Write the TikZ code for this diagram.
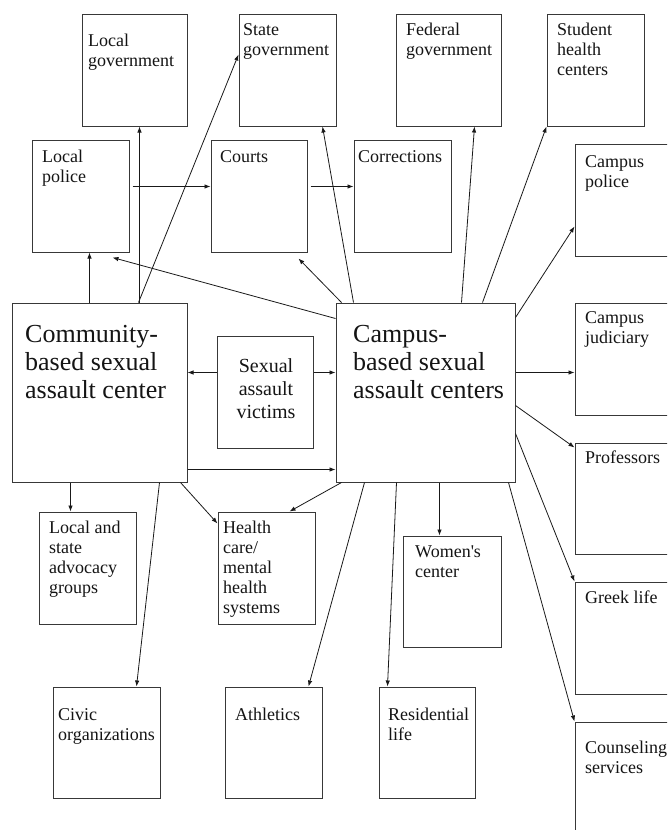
\documentclass[tikz,border=0pt]{standalone}
\usepackage{fontspec}
\setmainfont{Liberation Serif}
\usetikzlibrary{arrows.meta,calc}
\newcommand{\fs}{\rule{0pt}{14pt}}
\newcommand{\fb}{\rule{0pt}{20pt}}
\newcommand{\fm}{\rule{0pt}{15.5pt}}
\begin{document}
\begin{tikzpicture}[x=1pt,y=-1pt,
  box/.style={draw=black!78,line width=1pt,rectangle,inner sep=0pt,fill=none},
  txt/.style={anchor=north west,inner sep=0pt,align=left,text=black!92,font=\fontsize{18}{20}\selectfont},
  bigtxt/.style={anchor=north west,inner sep=0pt,align=left,text=black!92,font=\fontsize{26}{28}\selectfont},
  midtxt/.style={anchor=north,inner sep=0pt,align=center,text=black!92,font=\fontsize{20}{23}\selectfont},
  arr/.style={draw=black!90,line width=0.8pt,-{Latex[length=6pt,width=4.5pt]}}]
\useasboundingbox (0,0) rectangle (667,830);
\clip (0,0) rectangle (667,830);
% boxes
\node[box,minimum width=105pt,minimum height=112pt] (lg) at (134.5,70) {};
\node[box,minimum width=97pt,minimum height=112pt] (sg) at (287.5,70) {};
\node[box,minimum width=105pt,minimum height=112pt] (fg) at (448.5,70) {};
\node[box,minimum width=97pt,minimum height=112pt] (sh) at (595.5,70) {};
\node[box,minimum width=97pt,minimum height=112pt] (lp) at (80.5,196) {};
\node[box,minimum width=96pt,minimum height=112pt] (ct) at (259,196) {};
\node[box,minimum width=97pt,minimum height=112pt] (co) at (402.5,196) {};
\node[box,minimum width=97pt,minimum height=112pt] (cp) at (623.5,200) {};
\node[box,minimum width=175pt,minimum height=179pt] (cb) at (99.5,392.5) {};
\node[box,minimum width=96pt,minimum height=112pt] (sv) at (265,392) {};
\node[box,minimum width=179pt,minimum height=179pt] (cc) at (425.5,392.5) {};
\node[box,minimum width=97pt,minimum height=112pt] (cj) at (623.5,359) {};
\node[box,minimum width=97pt,minimum height=111pt] (pr) at (623.5,498.5) {};
\node[box,minimum width=97pt,minimum height=112pt] (gl) at (623.5,638) {};
\node[box,minimum width=97pt,minimum height=112pt] (cs) at (623.5,778) {};
\node[box,minimum width=97pt,minimum height=112pt] (la) at (87.5,568) {};
\node[box,minimum width=97pt,minimum height=112pt] (hc) at (266.5,568) {};
\node[box,minimum width=98pt,minimum height=111pt] (wc) at (452,591.5) {};
\node[box,minimum width=107pt,minimum height=111pt] (cv) at (106.5,742.5) {};
\node[box,minimum width=97pt,minimum height=111pt] (at) at (273.5,742.5) {};
\node[box,minimum width=96pt,minimum height=111pt] (rl) at (427,742.5) {};
% texts
\node[txt] (tlg) at (88,32) {\fs Local\\government};
\node[txt] (tsg) at (243,21) {\fs State\\government};
\node[txt] (tfg) at (406,21) {\fs Federal\\government};
\node[txt] (tsh) at (557,21) {\fs Student\\health\\centers};
\node[txt] (tlp) at (42,148) {\fs Local\\police};
\node[txt] (tct) at (220,148) {\fs Courts};
\node[txt] (tco) at (358,148) {\fs Corrections};
\node[txt] (tcp) at (585,153) {\fs Campus\\police};
\node[txt] (tcj) at (585,309) {\fs Campus\\judiciary};
\node[txt] (tpr) at (585,449) {\fs Professors};
\node[txt] (tgl) at (585,589) {\fs Greek life};
\node[txt] (tcs) at (585,739) {\fs Counseling\\services};
\node[txt] (tla) at (49,519) {\fs Local and\\state\\advocacy\\groups};
\node[txt] (thc) at (223,519) {\fs Health\\care/\\mental\\health\\systems};
\node[txt] (twc) at (415,543) {\fs Women\textquotesingle s\\center};
\node[txt] (tcv) at (58,706) {\fs Civic\\organizations};
\node[txt] (tat) at (235,706) {\fs Athletics};
\node[txt] (trl) at (388,706) {\fs Residential\\life};
\node[bigtxt] (tcb) at (25,322) {\fb Community-\\based sexual\\assault center};
\node[bigtxt] (tcc) at (353,322) {\fb Campus-\\based sexual\\assault centers};
\node[midtxt] (tsv) at (266,356.5) {\fm Sexual\\assault\\victims};
% arrows
\draw[arr] ($(cb.north west)+(78,0)$) -- ($(lp.south west)+(58,0)$);
\draw[arr] ($(cb.north west)+(128,0)$) -- ($(lg.south west)+(58,0)$);
\draw[arr] ($(cb.north west)+(127,0)$) -- ($(sg.north west)+(0,41)$);
\draw[arr] ($(lp.north east)+(3,47)$) -- ($(ct.north west)+(0,47)$);
\draw[arr] ($(ct.north east)+(3,47)$) -- ($(co.north west)+(0,47)$);
\draw[arr] ($(cc.north west)+(0,16)$) -- ($(lp.south west)+(81,5)$);
\draw[arr] ($(cc.north west)+(6,0)$) -- ($(ct.south east)+(-9,6)$);
\draw[arr] ($(cc.north west)+(18,0)$) -- ($(sg.south west)+(84,0)$);
\draw[arr] ($(cc.north west)+(126,0)$) -- ($(fg.south west)+(79,0)$);
\draw[arr] ($(cc.north west)+(147,0)$) -- (sh.south west);
\draw[arr] ($(cc.north east)+(0,15)$) -- ($(cp.north west)+(0,83)$);
\draw[arr] ($(sv.north west)+(0,37)$) -- ($(cb.north east)+(0,70)$);
\draw[arr] ($(sv.north east)+(0,37)$) -- ($(cc.north west)+(0,70)$);
\draw[arr] ($(cb.north east)+(0,167)$) -- ($(cc.north west)+(0,167)$);
\draw[arr] ($(cc.north east)+(0,70)$) -- ($(cj.north west)+(0,70)$);
\draw[arr] ($(cc.north east)+(0,103)$) -- ($(pr.north west)+(0,5)$);
\draw[arr] ($(cc.north east)+(0,131)$) -- (gl.north west);
\draw[arr] ($(cc.south west)+(173,0)$) -- (cs.north west);
\draw[arr] ($(cc.south west)+(104,0)$) -- ($(wc.north west)+(37,0)$);
\draw[arr] ($(cc.south west)+(61,0)$) -- ($(rl.north west)+(9,0)$);
\draw[arr] ($(cc.south west)+(29,0)$) -- ($(at.north east)+(-14,0)$);
\draw[arr] ($(cc.south west)+(6,0)$) -- ($(hc.north west)+(72,0)$);
\draw[arr] ($(cb.south east)+(-7,0)$) -- ($(hc.north west)+(0,12)$);
\draw[arr] ($(cb.south west)+(59,0)$) -- ($(la.north west)+(32,0)$);
\draw[arr] ($(cb.south west)+(148,0)$) -- ($(cv.north west)+(84,0)$);
\end{tikzpicture}
\end{document}
